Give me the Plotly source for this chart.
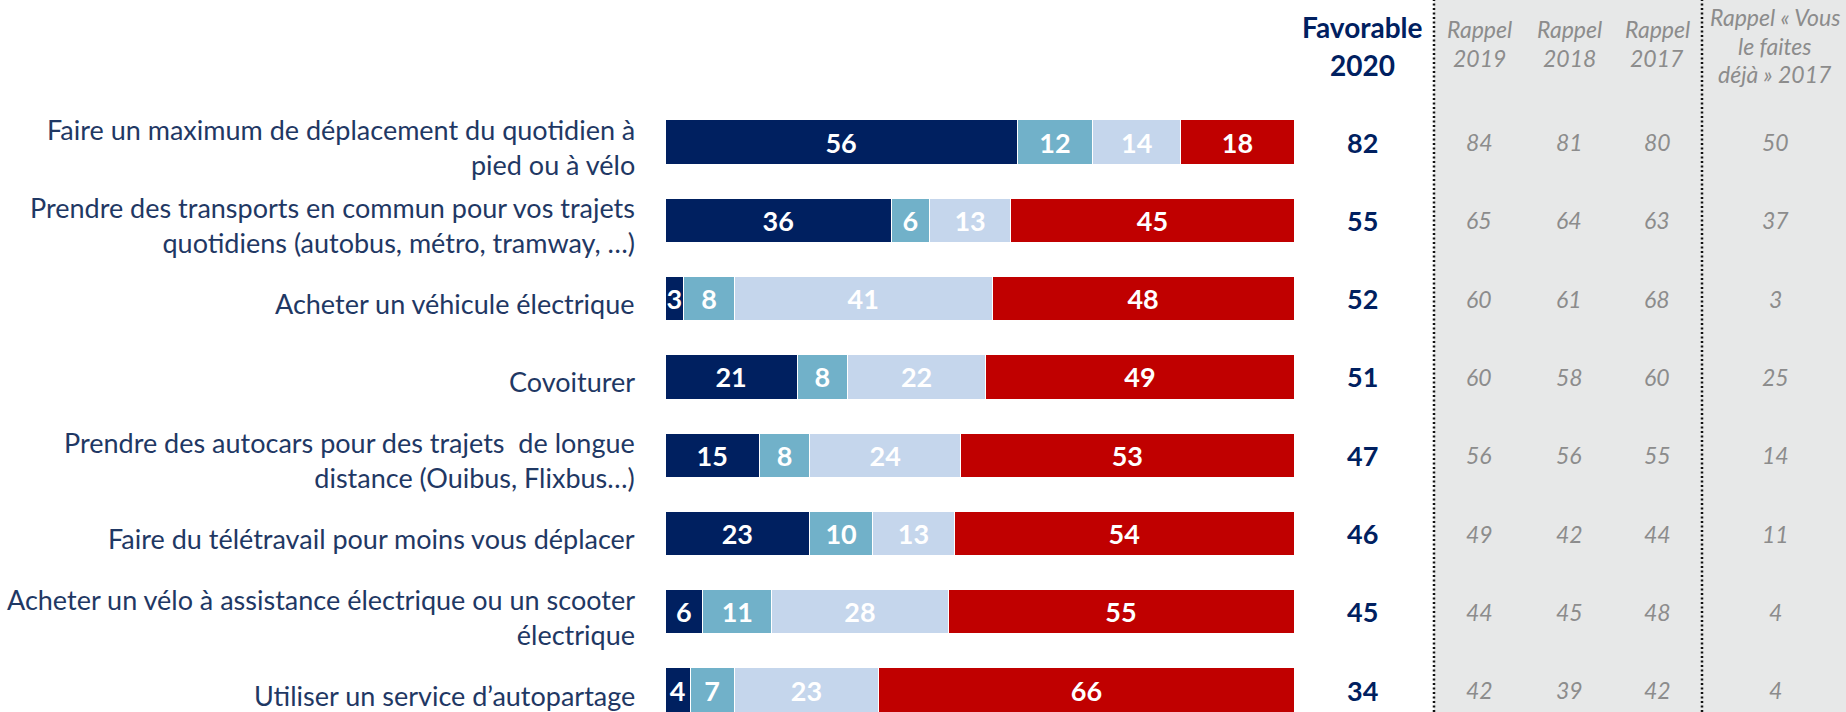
import plotly.graph_objects as go

# ---------------- data ----------------
labels = [
    "Faire un maximum de déplacement du quotidien à<br>pied ou à vélo",
    "Prendre des transports en commun pour vos trajets<br>quotidiens (autobus, métro, tramway, …)",
    "Acheter un véhicule électrique",
    "Covoiturer",
    "Prendre des autocars pour des trajets  de longue<br>distance (Ouibus, Flixbus…)",
    "Faire du télétravail pour moins vous déplacer",
    "Acheter un vélo à assistance électrique ou un scooter<br>électrique",
    "Utiliser un service d’autopartage",
]
series_names = ["Vous le faites déjà", "Vous êtes prêt à le faire certainement",
                "Vous êtes prêt à le faire probablement", "Vous n’êtes pas prêt à le faire"]
deja = [56, 36, 3, 21, 15, 23, 6, 4]
certainement = [12, 6, 8, 8, 8, 10, 11, 7]
probablement = [14, 13, 41, 22, 24, 13, 28, 23]
pas_pret = [18, 45, 48, 49, 53, 54, 55, 66]

favorable_2020 = [82, 55, 52, 51, 47, 46, 45, 34]
rappel_2019 = [84, 65, 60, 60, 56, 49, 44, 42]
rappel_2018 = [81, 64, 61, 58, 56, 42, 45, 39]
rappel_2017 = [80, 63, 68, 60, 55, 44, 48, 42]
deja_2017 = [50, 37, 3, 25, 14, 11, 4, 4]

col_headers = [["Favorable", "2020"], ["Rappel", "2019"], ["Rappel", "2018"], ["Rappel", "2017"],
               ["Rappel « Vous", "le faites", "déjà » 2017"]]

# ---------------- style / layout ----------------
W, H = 1846, 712
BAR_LEFT, BAR_RIGHT = 665, 1294
ROW0, ROW_STEP = 142, 78.3
colors = ["#002060", "#71B1C9", "#C5D6EC", "#C00000"]
LABEL_COLOR = "#1F3864"
GRAY_TXT = "#8C8C8C"
FONT = "Lato"

ppu = (BAR_RIGHT - BAR_LEFT) / 100.0
x_range = [-BAR_LEFT / ppu, (W - BAR_LEFT) / ppu]
y0 = -ROW0 / ROW_STEP
y_range = [y0 + H / ROW_STEP, y0]

rows = list(range(len(labels)))

fig = go.Figure()
for name, vals, col in zip(series_names, [deja, certainement, probablement, pas_pret], colors):
    fig.add_trace(go.Bar(
        y=rows, x=vals, name=name, orientation="h",
        marker=dict(color=col, line=dict(color="white", width=1)),
        width=0.565,
        text=vals, texttemplate="%{text}",
        textposition="inside", insidetextanchor="middle", constraintext="none",
        textfont=dict(family=FONT, size=27, color="white", weight="bold"),
        hoverinfo="skip",
    ))

annotations = []
# row labels
for i, lab in enumerate(labels):
    annotations.append(dict(
        x=637 / W, xref="paper", y=i, yref="y", yshift=-5, text=lab, showarrow=False,
        xanchor="right", yanchor="middle", align="right",
        font=dict(family=FONT, size=27, color=LABEL_COLOR)))

# right-hand columns
col_x = [1362, 1479, 1569, 1657, 1775]
col_data = [favorable_2020, rappel_2019, rappel_2018, rappel_2017, deja_2017]
for c, (cx, data) in enumerate(zip(col_x, col_data)):
    bold = c == 0
    for i, v in enumerate(data):
        annotations.append(dict(
            x=cx / W, xref="paper", y=i, yref="y", text=str(v), showarrow=False,
            xanchor="center", yanchor="middle",
            font=dict(family=FONT, size=27 if bold else 23,
                      color="#002060" if bold else GRAY_TXT,
                      weight="bold" if bold else "normal",
                      style="normal" if bold else "italic")))

# headers: one annotation per line (line centre in px from top, line step, font size)
hdr_fmt = [(27, 38, 28), (29, 29, 23), (29, 29, 23), (29, 29, 23), (17, 28.5, 23)]
for c, (cx, lines) in enumerate(zip(col_x, col_headers)):
    bold = c == 0
    first, step, size = hdr_fmt[c]
    for k, line in enumerate(lines):
        annotations.append(dict(
            x=cx / W, xref="paper", y=1 - (first + k * step) / H, yref="paper",
            text=line, showarrow=False, xanchor="center", yanchor="middle",
            font=dict(family=FONT, size=size,
                      color="#002060" if bold else GRAY_TXT,
                      weight="bold" if bold else "normal",
                      style="normal" if bold else "italic")))

shapes = [
    dict(type="rect", xref="paper", yref="paper", x0=1434 / W, x1=1, y0=0, y1=1,
         fillcolor="#E7E8E8", line=dict(width=0), layer="below"),
    dict(type="line", xref="paper", yref="paper", x0=1434 / W, x1=1434 / W, y0=0, y1=1,
         line=dict(color="#111111", width=2.5, dash="2px,2.5px")),
    dict(type="line", xref="paper", yref="paper", x0=1702 / W, x1=1702 / W, y0=0, y1=1,
         line=dict(color="#111111", width=2.5, dash="2px,2.5px")),
]

fig.update_layout(
    width=W, height=H, barmode="stack", showlegend=False,
    margin=dict(l=0, r=0, t=0, b=0),
    paper_bgcolor="white", plot_bgcolor="rgba(0,0,0,0)",
    xaxis=dict(range=x_range, visible=False, fixedrange=True),
    yaxis=dict(range=y_range, visible=False, fixedrange=True),
    annotations=annotations, shapes=shapes,
    font=dict(family=FONT),
)

fig.write_html("out.html", config={"displayModeBar": False},
               post_script="document.body.style.margin='0';document.body.style.overflow='hidden';")
